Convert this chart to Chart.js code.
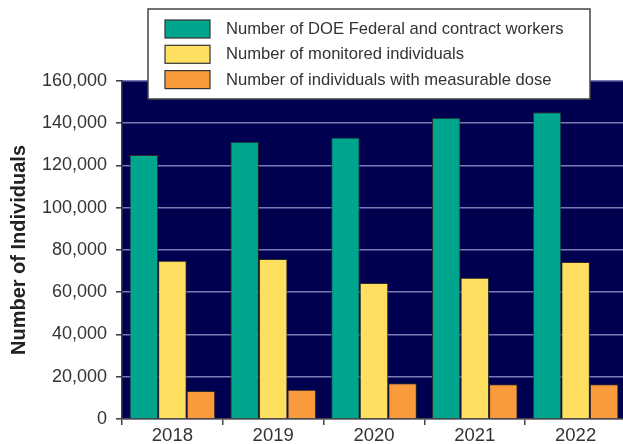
<!DOCTYPE html>
<html>
<head>
<meta charset="utf-8">
<script src="https://cdn.jsdelivr.net/npm/chart.js@4"></script>
<style>
  html, body { margin: 0; padding: 0; background: #fff; overflow: hidden; }
</style>
</head>
<body>
<canvas id="chart" width="626" height="444"></canvas>
<script>
const years = ['2018', '2019', '2020', '2021', '2022'];
const seriesNames = [
    'Number of DOE Federal and contract workers',
    'Number of monitored individuals',
    'Number of individuals with measurable dose'
];
const workers = [125000, 131300, 133200, 142600, 145200];
const monitored = [74900, 75700, 64400, 66900, 74300];
const measurable = [13200, 13900, 16900, 16400, 16400];
const yTicks = [0, 20000, 40000, 60000, 80000, 100000, 120000, 140000, 160000];

const colores = ['#00a58e', '#ffdf60', '#f99b3c'];
const fonte = "'Liberation Sans', Arial, sans-serif";

// fundo azul-marinho da area do grafico
const fundoPlot = {
    id: 'fundoPlot',
    beforeDraw(chart) {
        const a = chart.chartArea;
        const ctx = chart.ctx;
        ctx.save();
        ctx.fillStyle = '#000050';
        ctx.fillRect(a.left, a.top - 1, a.right - a.left, a.bottom - a.top + 1);
        ctx.restore();
    }
};

// legenda em caixa branca sobreposta ao topo do grafico
const legendaCaixa = {
    id: 'legendaCaixa',
    afterDraw(chart) {
        const ctx = chart.ctx;
        ctx.save();
        ctx.fillStyle = '#ffffff';
        ctx.fillRect(148, 9, 442, 90);
        ctx.strokeStyle = '#444';
        ctx.lineWidth = 1.5;
        ctx.strokeRect(148, 9, 442, 90);
        ctx.font = '16.6px ' + fonte;
        ctx.textBaseline = 'middle';
        chart.data.datasets.forEach((ds, i) => {
            const y = 20 + i * 25.3;
            ctx.fillStyle = ds.backgroundColor;
            ctx.fillRect(165, y, 45, 18);
            ctx.strokeStyle = '#333';
            ctx.lineWidth = 1.2;
            ctx.strokeRect(165, y, 45, 18);
            ctx.fillStyle = '#333';
            ctx.fillText(ds.label, 226, y + 9.5);
        });
        ctx.restore();
    }
};

new Chart(document.getElementById('chart'), {
    type: 'bar',
    data: {
        labels: years,
        datasets: [workers, monitored, measurable].map((valores, i) => ({
            label: seriesNames[i],
            data: valores,
            backgroundColor: colores[i],
            borderColor: '#2a2a2a',
            borderWidth: 1,
            categoryPercentage: 0.85,
            barPercentage: 1.0
        }))
    },
    options: {
        responsive: false,
        devicePixelRatio: 1,
        animation: false,
        layout: { padding: { top: 81, right: 0, bottom: 0, left: 0 } },
        plugins: {
            legend: { display: false },
            tooltip: { enabled: false }
        },
        scales: {
            x: {
                afterFit(scale) { scale.height = 25; },
                grid: {
                    drawOnChartArea: false,
                    tickLength: 6,
                    tickColor: '#444',
                    lineWidth: 1.5
                },
                border: { color: '#444', width: 1.5 },
                ticks: {
                    color: '#333',
                    padding: 0,
                    font: { family: fonte, size: 18.5 }
                }
            },
            y: {
                min: 0,
                max: 160000,
                afterFit(scale) { scale.width = 122; },
                afterBuildTicks(scale) { scale.ticks = yTicks.map(v => ({ value: v })); },
                grid: {
                    color: '#7a7ab4',
                    lineWidth: 1.6,
                    tickColor: '#444',
                    tickLength: 6
                },
                border: { color: '#444', width: 1.5 },
                ticks: {
                    color: '#333',
                    padding: 9,
                    font: { family: fonte, size: 18 },
                    callback: v => v.toLocaleString('en-US')
                },
                title: {
                    display: true,
                    text: 'Number of Individuals',
                    color: '#222',
                    padding: { top: 7, bottom: 0 },
                    font: { family: fonte, size: 20, weight: 'bold' }
                }
            }
        }
    },
    plugins: [fundoPlot, legendaCaixa]
});
</script>
</body>
</html>
